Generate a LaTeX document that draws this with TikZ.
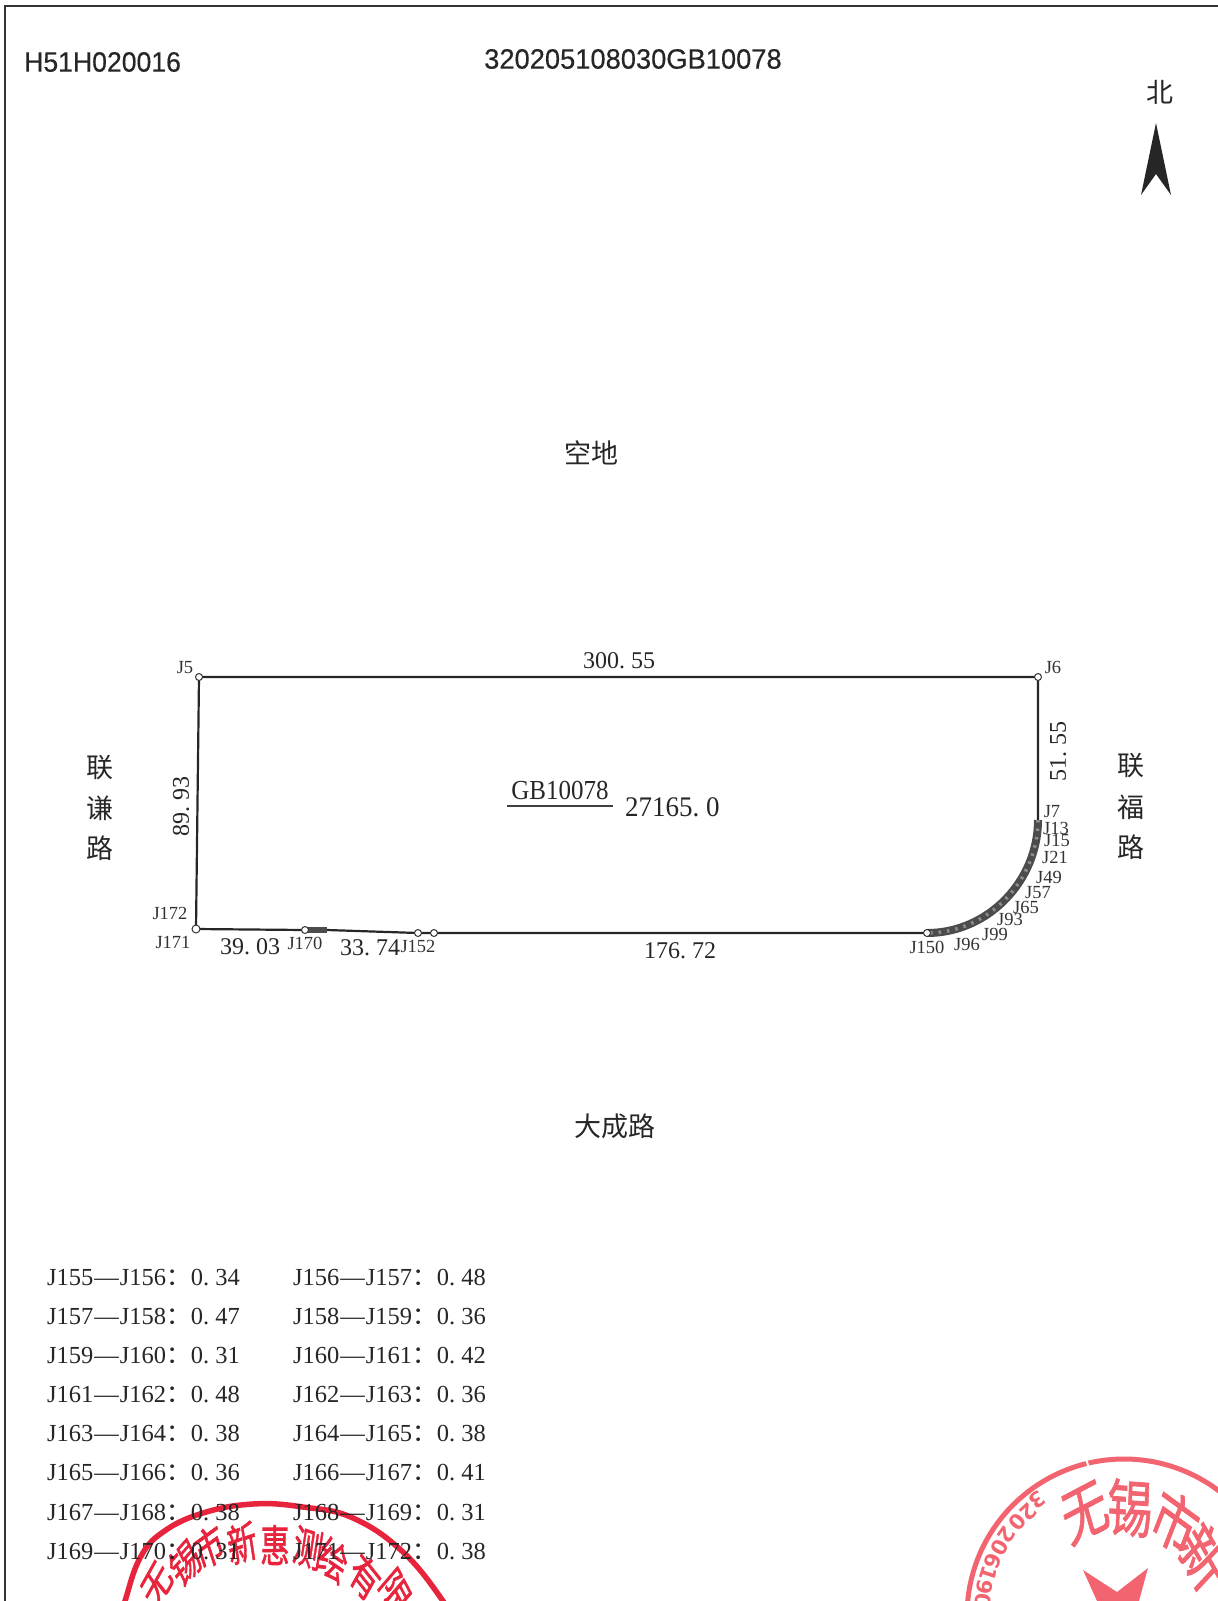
\documentclass[tikz,border=0pt]{standalone}
\usepackage{fontspec}
\setmainfont{Liberation Serif}
\newfontfamily\cjk{Noto Sans CJK SC}
\newfontfamily\cjks[FakeBold=1.4]{Noto Sans CJK SC}
\newfontfamily\hdf[FakeBold=0.4]{Liberation Sans}
\newfontfamily\sealnum{DejaVu Sans}
\newcommand{\dn}[2]{#1.\kern.25em #2}
\newcommand{\rowt}[3]{#1{\kern1pt—\kern1pt}#2{\cjk ：}0.\kern.25em #3}
\definecolor{sred}{HTML}{E8233C}
\definecolor{sredb}{HTML}{F2646F}
\tikzset{
 hdr/.style={font=\hdf\fontsize{28}{28}\selectfont,text=black!85,inner sep=0pt,anchor=west},
 cjkl/.style={font=\cjk\fontsize{27}{27}\selectfont,text=black!85,inner sep=0pt},
 dim/.style={font=\fontsize{24}{24}\selectfont,text=black!85,inner sep=0pt},
 ptl/.style={font=\fontsize{18.5}{18.5}\selectfont,text=black!80,inner sep=0pt},
 tbl/.style={font=\fontsize{24.5}{24.5}\selectfont,text=black!85,inner sep=0pt,anchor=west},
 vtx/.style={circle,draw=black!80,fill=white,line width=1pt,minimum size=7pt,inner sep=0pt},
 bnd/.style={draw=black!85,line width=2.2pt},
 thk/.style={draw=black!70,line width=8pt},
 thd/.style={draw=black!45,line width=3.5pt,dash pattern=on 2.5pt off 6pt},
 sealA/.style={font=\cjks\fontsize{31}{31}\selectfont,text=sred,inner sep=0pt,xscale=.95,yscale=1.42},
 sealB/.style={font=\cjks\fontsize{48}{48}\selectfont,text=sredb,inner sep=0pt,xscale=.95,yscale=1.3},
 sealN/.style={font=\sealnum\bfseries\fontsize{21}{21}\selectfont,text=sredb,inner sep=0pt},
}
\begin{document}
\begin{tikzpicture}[x=1pt,y=-1pt]
\useasboundingbox (0,0) rectangle (1218,1601);
\clip (0,0) rectangle (1218,1601);
% frame
\draw[black!80,line width=2.4pt] (5,1601) -- (5,6) -- (1218,6);
% left seal
\draw[sred,line width=5.5pt] plot[smooth,tension=.7] coordinates {(118,1625) (125,1601) (140,1558) (163,1532) (203,1513) (253,1504) (303,1507) (353,1518) (403,1552) (443,1601) (455,1625)};
\node[sealA,rotate=50] (a1) at (157,1585) {无};
\node[sealA,rotate=37] (a2) at (185,1563) {锡};
\node[sealA,rotate=26] (a3) at (209,1547) {市};
\node[sealA,rotate=13] (a4) at (242,1543) {新};
\node[sealA,rotate=0] (a5) at (275,1545) {惠};
\node[sealA,rotate=-13] (a6) at (308,1548) {测};
\node[sealA,rotate=-25] (a7) at (333,1560) {绘};
\node[sealA,rotate=-40] (a8) at (365,1577) {有};
\node[sealA,rotate=-52] (a9) at (395,1592) {限};
% right seal
\draw[sredb,line width=5pt] (1124,1616) circle (157);
\draw[white,line width=2pt] (1085,1456) -- (1089,1468);
\node[sealB,rotate=21] (b1) at (1085,1513) {无};
\node[sealB,rotate=-3] (b2) at (1130,1508) {锡};
\node[sealB,rotate=-28] (b3) at (1175,1522) {市};
\node[sealB,rotate=-52] (b4) at (1203,1557) {新};
\node[sealN,rotate=-143] (n1) at (1037,1500) {3};
\node[sealN,rotate=-137] (n2) at (1028,1512) {2};
\node[sealN,rotate=-131] (n3) at (1017,1522) {0};
\node[sealN,rotate=-125] (n4) at (1007,1535) {2};
\node[sealN,rotate=-119] (n5) at (1000,1548) {0};
\node[sealN,rotate=-112] (n6) at (993,1561) {6};
\node[sealN,rotate=-108] (n7) at (989,1574) {1};
\node[sealN,rotate=-101] (n8) at (985,1587) {9};
\node[sealN,rotate=-98] (n9) at (983,1601) {0};
\fill[sredb] (1083,1570) -- (1117,1592) -- (1148,1568) -- (1139,1601) -- (1097,1601) -- cycle;
% headers
\node[hdr,xscale=.95] (h1) at (24,62) {H51H020016};
\node[hdr,xscale=.975] (h2) at (484,59) {320205108030GB10078};
\node[cjkl] (north) at (1160,92) {北};
\fill[black!85] (1156,123) -- (1171,195) -- (1156,174) -- (1141,195) -- cycle;
\node[cjkl] (kd) at (591,453) {空地};
\node[cjkl] (dc) at (615,1126) {大成路};
\node[cjkl] (l1) at (100,768) {联};
\node[cjkl] (l2) at (100,808) {谦};
\node[cjkl] (l3) at (100,848) {路};
\node[cjkl] (r1) at (1131,766) {联};
\node[cjkl] (r2) at (1131,807) {福};
\node[cjkl] (r3) at (1131,847) {路};
% boundary
\coordinate (J5) at (199,677);
\coordinate (J6) at (1038,677);
\coordinate (J7) at (1038,820);
\coordinate (J150) at (927,933);
\coordinate (J153) at (434,933);
\coordinate (J152) at (418,933);
\coordinate (J169) at (327,930);
\coordinate (J170) at (305,930);
\coordinate (J171) at (196,929);
\path[bnd] (J171) -- (J5) -- (J6) -- (J7);
\path[bnd] (J150) -- (J153) -- (J152) -- (J169) -- (J170) -- (J171);
\path[thk] (J7) .. controls (1038,881) and (988,933) .. (J150);
\path[thd] (J7) .. controls (1038,881) and (988,933) .. (J150);
\path[thk,line width=6pt] (J170) -- (J169);
\node[vtx] (v5) at (J5) {};
\node[vtx] (v6) at (J6) {};
\node[vtx,minimum size=8pt] (v171) at (J171) {};
\node[vtx] (v170) at (J170) {};
\node[vtx] (v152) at (J152) {};
\node[vtx] (v153) at (J153) {};
\node[vtx] (v150) at (J150) {};
% dimensions
\node[dim] (d1) at (619,661) {\dn{300}{55}};
\node[dim,rotate=90] (d2) at (1058,751) {\dn{51}{55}};
\node[dim,rotate=90] (d3) at (181,806) {\dn{89}{93}};
\node[dim] (d4) at (250,947) {\dn{39}{03}};
\node[dim] (d5) at (370,948) {\dn{33}{74}};
\node[dim] (d6) at (680,951) {\dn{176}{72}};
\node[dim,font=\fontsize{25}{25}\selectfont,anchor=base,yscale=1.1] (gb) at (560,799) {GB10078};
\draw[black!75,line width=1.2pt] (507,806) -- (613,806);
\node[dim,font=\fontsize{27}{27}\selectfont,anchor=west,yscale=1.05] (ar) at (625,807) {\dn{27165}{0}};
% point labels
\node[ptl] (p5) at (185,668) {J5};
\node[ptl] (p6) at (1053,667) {J6};
\node[ptl] (p7) at (1052,812) {J7};
\node[ptl] (p13) at (1056,828) {J13};
\node[ptl] (p15) at (1057,840) {J15};
\node[ptl] (p21) at (1055,857) {J21};
\node[ptl] (p49) at (1049,877) {J49};
\node[ptl] (p57) at (1038,893) {J57};
\node[ptl] (p65) at (1026,907) {J65};
\node[ptl] (p93) at (1010,919) {J93};
\node[ptl] (p99) at (995,934) {J99};
\node[ptl] (p96) at (967,944) {J96};
\node[ptl] (p150) at (927,947) {J150};
\node[ptl] (p152) at (418,946) {J152};
\node[ptl] (p170) at (305,943) {J170};
\node[ptl] (p171) at (173,942) {J171};
\node[ptl] (p172) at (170,913) {J172};
% table
\node[tbl] (t1) at (47,1278) {\rowt{J155}{J156}{34}};
\node[tbl] (t2) at (293,1278) {\rowt{J156}{J157}{48}};
\node[tbl] (t3) at (47,1317) {\rowt{J157}{J158}{47}};
\node[tbl] (t4) at (293,1317) {\rowt{J158}{J159}{36}};
\node[tbl] (t5) at (47,1356) {\rowt{J159}{J160}{31}};
\node[tbl] (t6) at (293,1356) {\rowt{J160}{J161}{42}};
\node[tbl] (t7) at (47,1395) {\rowt{J161}{J162}{48}};
\node[tbl] (t8) at (293,1395) {\rowt{J162}{J163}{36}};
\node[tbl] (t9) at (47,1434) {\rowt{J163}{J164}{38}};
\node[tbl] (t10) at (293,1434) {\rowt{J164}{J165}{38}};
\node[tbl] (t11) at (47,1473) {\rowt{J165}{J166}{36}};
\node[tbl] (t12) at (293,1473) {\rowt{J166}{J167}{41}};
\node[tbl] (t13) at (47,1513) {\rowt{J167}{J168}{38}};
\node[tbl] (t14) at (293,1513) {\rowt{J168}{J169}{31}};
\node[tbl] (t15) at (47,1552) {\rowt{J169}{J170}{31}};
\node[tbl] (t16) at (293,1552) {\rowt{J171}{J172}{38}};
\end{tikzpicture}
\end{document}
